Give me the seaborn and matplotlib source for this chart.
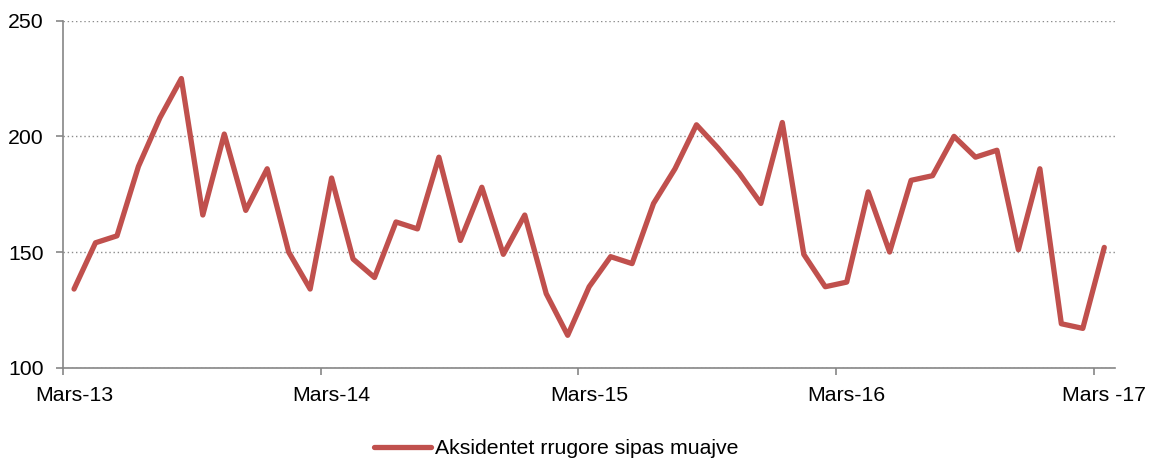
import numpy as np
import pandas as pd
import matplotlib
matplotlib.use("Agg")
import matplotlib.pyplot as plt
import seaborn as sns

# ---- data ----
month_names = ["Mars", "Prill", "Maj", "Qershor", "Korrik", "Gusht", "Shtator",
               "Tetor", "Nëntor", "Dhjetor", "Janar", "Shkurt"]
values = [134, 154, 157, 187, 208, 225, 166, 201, 168, 186, 150, 134,
          182, 147, 139, 163, 160, 191, 155, 178, 149, 166, 132, 114,
          135, 148, 145, 171, 186, 205, 195, 184, 171, 206, 149, 135,
          137, 176, 150, 181, 183, 200, 191, 194, 151, 186, 119, 117,
          152]
tick_positions = [0, 12, 24, 36, 48]
tick_labels = ["Mars-13", "Mars-14", "Mars-15", "Mars-16", "Mars -17"]
y_ticks = [100, 150, 200, 250]
series_name = "Aksidentet rrugore sipas muajve"

categories = []
for i in range(len(values)):
    yr = 13 + (i + 2) // 12
    categories.append(f"{month_names[i % 12]}-{yr}")

df = pd.DataFrame({"idx": np.arange(len(values)), "muaji": categories,
                   "vlera": values, "seria": series_name})

sns.set_style("white")
plt.rcParams['font.family'] = ['Liberation Sans', 'DejaVu Sans']
plt.rcParams['text.color'] = 'black'

FS = 15.3

fig = plt.figure(figsize=(11.51, 4.59), dpi=100)
ax = fig.add_axes([63.3 / 1151, 1 - 367.7 / 459, (1115 - 63.3) / 1151, (367.7 - 20.7) / 459])

sns.lineplot(data=df, x="idx", y="vlera", hue="seria", palette=["#C0504D"],
             linewidth=3.8, ax=ax, legend=True)

ax.set_xlim(-0.5, len(values) - 0.5)
ax.set_ylim(100, 250)
ax.set_yticks(y_ticks)
ax.set_yticklabels([str(v) for v in y_ticks])
ax.set_xticks(tick_positions)
ax.set_xticklabels(tick_labels)
ax.set_xticks([p - 0.5 for p in tick_positions], minor=True)
ax.set_xlabel("")
ax.set_ylabel("")

ax.grid(axis="y", linestyle=(0, (1, 2)), color="#8c8c8c", linewidth=1.0)
ax.grid(axis="x", visible=False)
ax.set_axisbelow(True)

for s in ["top", "right"]:
    ax.spines[s].set_visible(False)
for s in ["left", "bottom"]:
    ax.spines[s].set_color("#868686")
    ax.spines[s].set_linewidth(1.2)

ax.tick_params(axis="y", which="major", length=5, width=1.2, color="#868686",
               pad=9, labelsize=FS, labelcolor="black", left=True)
ax.tick_params(axis="x", which="major", length=0, pad=13, labelsize=FS,
               labelcolor="black", bottom=True)
ax.tick_params(axis="x", which="minor", length=5, width=1.2, color="#868686",
               bottom=True)

leg = ax.legend(loc="center", bbox_to_anchor=(556 / 1151, 1 - 449 / 459),
                bbox_transform=fig.transFigure, frameon=False, fontsize=FS,
                handlelength=2.7, handletextpad=0.15)
for line in leg.get_lines():
    line.set_linewidth(3.8)
for t in leg.get_texts():
    t.set_color("black")

fig.savefig("out.png", dpi=100)
